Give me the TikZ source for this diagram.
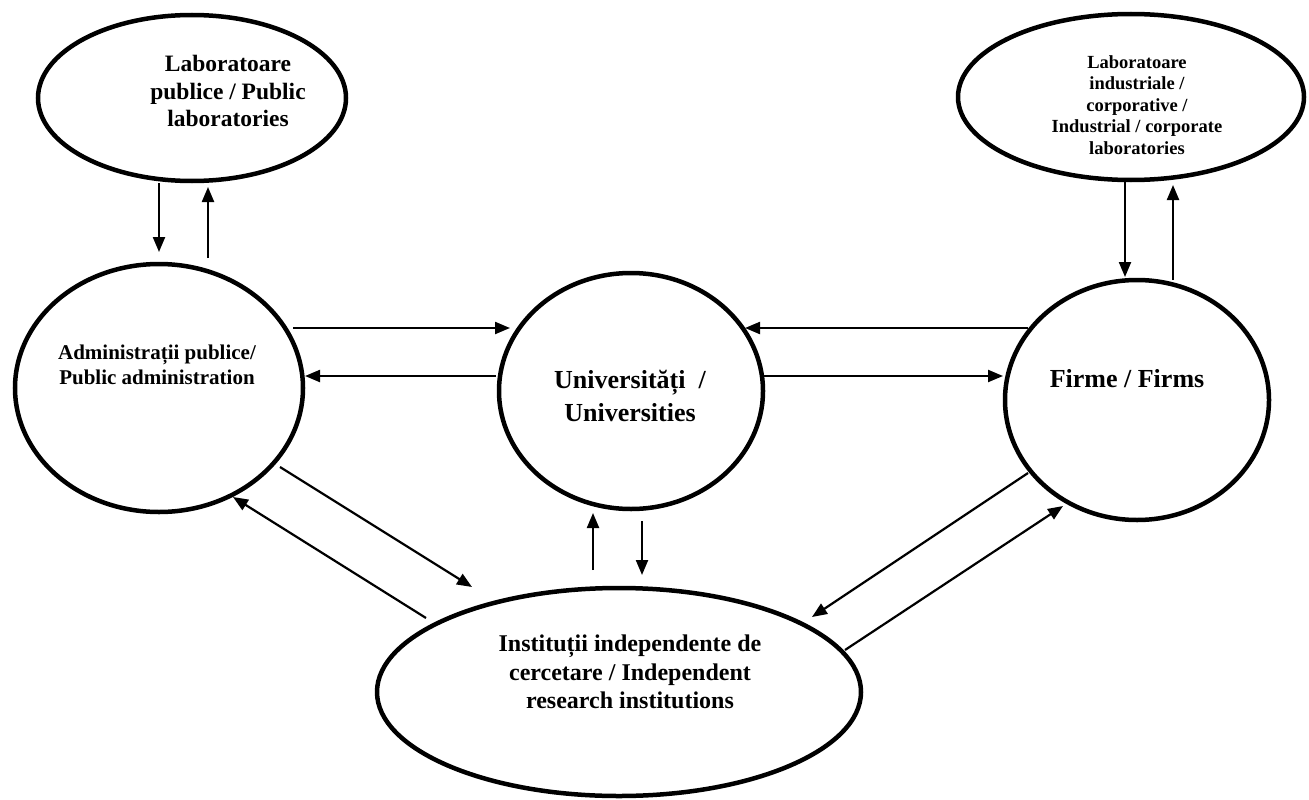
\documentclass[tikz,border=0pt]{standalone}
\usepackage{fontspec}
\setmainfont{Liberation Serif}
\usetikzlibrary{shapes.geometric,arrows.meta}
\tikzset{
  blob/.style={draw=black, line width=4.5pt, ellipse, inner sep=0pt, fill=white},
  lbl/.style={align=center, inner sep=0pt, font=\bfseries},
  arr/.style={draw=black, line width=2.2pt, -{Triangle[length=15pt,width=12pt]}}
}
\begin{document}
\begin{tikzpicture}[x=1pt,y=-1pt]
\useasboundingbox (0,0) rectangle (1309,800);
% ellipses
\node[blob, minimum width=308pt, minimum height=166pt] (pub) at (192,98) {};
\node[blob, minimum width=346pt, minimum height=166pt] (ind) at (1131,97) {};
\node[blob, minimum width=288pt, minimum height=248pt] (adm) at (159,388) {};
\node[blob, minimum width=264pt, minimum height=236pt] (uni) at (631,391) {};
\node[blob, minimum width=264pt, minimum height=240pt] (firm) at (1137,400) {};
\node[blob, minimum width=484pt, minimum height=208pt] (inst) at (619,692) {};
% labels
\node[lbl, font=\bfseries\fontsize{23.5}{27.5}\selectfont] (tpub) at (228,91) {Laboratoare\\publice / Public\\laboratories};
\node[lbl, font=\bfseries\fontsize{18.5}{21.5}\selectfont] (tind) at (1137,105) {Laboratoare\\industriale /\\corporative /\\Industrial / corporate\\laboratories};
\node[lbl, font=\bfseries\fontsize{21}{25}\selectfont] (tadm) at (157,365) {Administrații publice/\\Public administration};
\node[lbl, font=\bfseries\fontsize{26}{33}\selectfont] (tuni) at (630,396) {Universități\ \ /\\Universities};
\node[lbl, font=\bfseries\fontsize{26}{30}\selectfont, anchor=base] (tfirm) at (1127,387) {Firme / Firms};
\node[lbl, font=\bfseries\fontsize{24}{28.5}\selectfont] (tinst) at (630,672) {Instituții independente de\\cercetare / Independent\\research institutions};
% connector end points
\coordinate (p1s) at (159,183); \coordinate (p1e) at (159,252);
\coordinate (p2s) at (208,258); \coordinate (p2e) at (208,187);
\coordinate (i1s) at (1125,182); \coordinate (i1e) at (1125,277);
\coordinate (i2s) at (1173,280); \coordinate (i2e) at (1173,185);
\coordinate (a1s) at (293,328); \coordinate (a1e) at (510,328);
\coordinate (u1s) at (496,376); \coordinate (u1e) at (305,376);
\coordinate (f1s) at (1028,328); \coordinate (f1e) at (745,328);
\coordinate (u2s) at (762,376); \coordinate (u2e) at (1003,376);
\coordinate (a2s) at (280,467); \coordinate (a2e) at (472,587);
\coordinate (n1s) at (426,618); \coordinate (n1e) at (233,497);
\coordinate (n2s) at (593,570); \coordinate (n2e) at (593,513);
\coordinate (u3s) at (642,521); \coordinate (u3e) at (642,575);
\coordinate (f2s) at (1028,473); \coordinate (f2e) at (812,617);
\coordinate (n3s) at (845,650); \coordinate (n3e) at (1063,506);
% connectors
\draw[arr] (p1s) -- (p1e);
\draw[arr] (p2s) -- (p2e);
\draw[arr] (i1s) -- (i1e);
\draw[arr] (i2s) -- (i2e);
\draw[arr] (a1s) -- (a1e);
\draw[arr] (u1s) -- (u1e);
\draw[arr] (f1s) -- (f1e);
\draw[arr] (u2s) -- (u2e);
\draw[arr] (a2s) -- (a2e);
\draw[arr] (n1s) -- (n1e);
\draw[arr] (n2s) -- (n2e);
\draw[arr] (u3s) -- (u3e);
\draw[arr] (f2s) -- (f2e);
\draw[arr] (n3s) -- (n3e);
\end{tikzpicture}
\end{document}
